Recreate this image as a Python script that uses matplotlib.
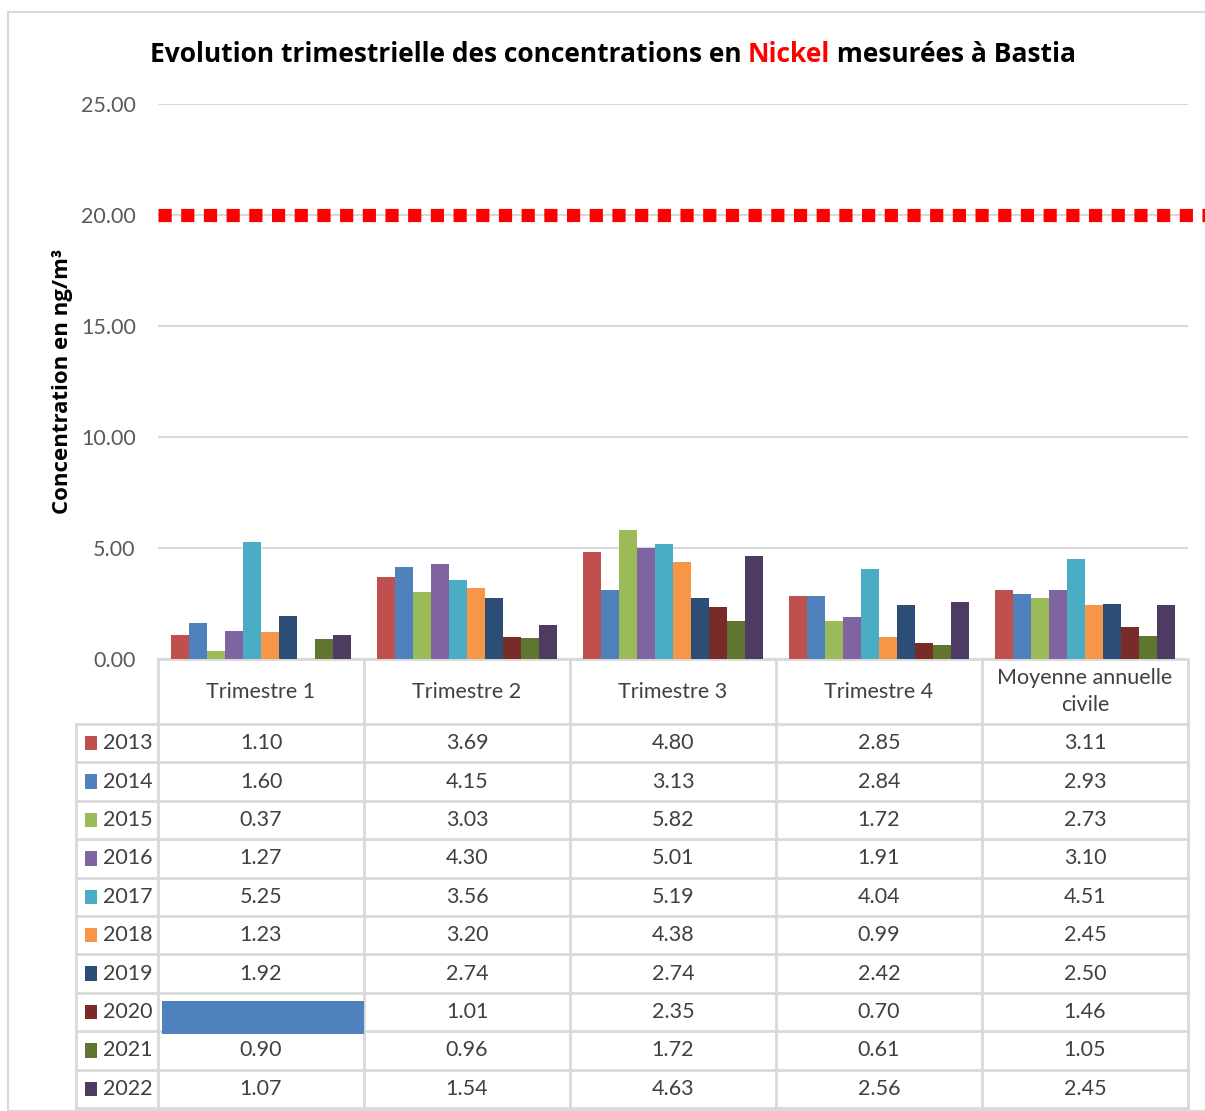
import numpy as np
import matplotlib.pyplot as plt
from matplotlib.patches import Rectangle
from matplotlib.transforms import blended_transform_factory

# ---- DATA ----
periods = ["Trimestre 1", "Trimestre 2", "Trimestre 3", "Trimestre 4",
           "Moyenne annuelle\ncivile"]
years = ["2013", "2014", "2015", "2016", "2017",
         "2018", "2019", "2020", "2021", "2022"]
v2013 = [1.10, 3.69, 4.80, 2.85, 3.11]
v2014 = [1.60, 4.15, 3.13, 2.84, 2.93]
v2015 = [0.37, 3.03, 5.82, 1.72, 2.73]
v2016 = [1.27, 4.30, 5.01, 1.91, 3.10]
v2017 = [5.25, 3.56, 5.19, 4.04, 4.51]
v2018 = [1.23, 3.20, 4.38, 0.99, 2.45]
v2019 = [1.92, 2.74, 2.74, 2.42, 2.50]
v2020 = [np.nan, 1.01, 2.35, 0.70, 1.46]
v2021 = [0.90, 0.96, 1.72, 0.61, 1.05]
v2022 = [1.07, 1.54, 4.63, 2.56, 2.45]
series = [v2013, v2014, v2015, v2016, v2017, v2018, v2019, v2020, v2021, v2022]
limit_value = 20.0

colors = ["#C0504D", "#4F81BD", "#9BBB59", "#8064A2", "#4BACC6",
          "#F79646", "#2C4D75", "#772C2A", "#5F7530", "#4D3B62"]

FONT = "Lato"
BOLD = "Open Sans"
FS = 15.5
GRID = "#D9D9D9"
TXT = "#404040"

W, H = 1205, 1111
fig = plt.figure(figsize=(W / 100, H / 100), dpi=100)
fig.patch.set_facecolor("white")

# outer frame of the chart
fig.add_artist(Rectangle((8 / W, 0), 1.2, (H - 12) / H, transform=fig.transFigure,
                         fill=False, edgecolor=GRID, linewidth=1.5))

# ---- BAR CHART ----
x0, x1 = 158, 1188
y_zero, y_top = 659, 104
ax = fig.add_axes([x0 / W, (H - y_zero) / H, (x1 - x0) / W, (y_zero - y_top) / H])
x = np.arange(len(periods))
bw = 0.087
n = len(series)
for i, vals in enumerate(series):
    ax.bar(x + (i - (n - 1) / 2) * bw, vals, width=bw, color=colors[i],
           edgecolor="none", zorder=3)

ax.set_xlim(-0.5, len(periods) - 0.5)
ax.set_ylim(0, 25)
ax.set_yticks(np.arange(0, 26, 5))
ax.set_yticklabels([f"{t:.2f}" for t in np.arange(0, 26, 5)],
                   fontsize=FS, color="#595959", family=FONT)
ax.tick_params(axis="y", length=0, pad=16)
ax.set_xticks([])
ax.grid(axis="y", color=GRID, linewidth=1.5, zorder=0)
for s in ["top", "right", "left"]:
    ax.spines[s].set_visible(False)
ax.spines["bottom"].set_color(GRID)
ax.spines["bottom"].set_linewidth(1.5)

# limit line
trans = blended_transform_factory(ax.transAxes, ax.transData)
ax.plot([0, 1.1], [limit_value, limit_value], transform=trans, color="red",
        linewidth=9.5, dashes=(1.0, 0.72), clip_on=False, zorder=4)

ax.set_ylabel("Concentration en ng/m³", fontsize=16, fontweight="bold",
              family=BOLD)
ax.yaxis.set_label_coords(-0.083, 0.5)

# title with the element in red
parts = [("Evolution trimestrielle des concentrations en ", "black"),
         ("Nickel", "#FF0000"),
         (" mesurées à Bastia", "black")]
fig.canvas.draw()
renderer = fig.canvas.get_renderer()
texts = []
widths = []
for s, c in parts:
    t = fig.text(0, 1 - 55 / H, s, color=c, fontsize=19, fontweight="bold",
                 family=BOLD, va="center", ha="left")
    texts.append(t)
    widths.append(t.get_window_extent(renderer).width)
total = sum(widths)
start = 613 - total / 2
for t, w in zip(texts, widths):
    t.set_x(start / W)
    start += w

# ---- DATA TABLE ----
lab_w = (158 - 76) / 206
hdr_h = 65 / 38.4
tab_left, tab_top, tab_bottom = 76, 659, 1108
tab = fig.add_axes([tab_left / W, (H - tab_bottom) / H, (x1 - tab_left) / W,
                    (tab_bottom - tab_top) / H])
tab.set_xlim(-0.5 - lab_w, len(periods) - 0.5)
tab.set_ylim(hdr_h + n, 0)
tab.axis("off")

lw = 2
# horizontal lines
tab.plot([-0.5, len(periods) - 0.5], [0, 0], color=GRID, lw=lw)
for r in range(n + 1):
    tab.plot([-0.5 - lab_w, len(periods) - 0.5], [hdr_h + r, hdr_h + r],
             color=GRID, lw=lw, clip_on=False)
# vertical lines
tab.plot([-0.5 - lab_w, -0.5 - lab_w], [hdr_h, hdr_h + n], color=GRID, lw=lw,
         clip_on=False)
for c in range(len(periods) + 1):
    tab.plot([c - 0.5, c - 0.5], [0, hdr_h + n], color=GRID, lw=lw, clip_on=False)

for c, p in enumerate(periods):
    tab.text(c, hdr_h / 2, p, ha="center", va="center", fontsize=FS,
             color=TXT, family=FONT, linespacing=1.45)

for r, (yr, vals) in enumerate(zip(years, series)):
    yc = hdr_h + r + 0.5
    tab.add_patch(Rectangle((-0.5 - lab_w + 0.045, yc - 0.19), 0.058, 0.38,
                            facecolor=colors[r], edgecolor="none"))
    tab.text(-0.5 - lab_w + 0.13, yc, yr, ha="left", va="center",
             fontsize=FS, color=TXT, family=FONT)
    for c, v in enumerate(vals):
        if np.isnan(v):
            tab.add_patch(Rectangle((c - 0.48, yc - 0.28), 0.98, 0.86,
                                    facecolor="#4F81BD", edgecolor="none",
                                    zorder=5))
        else:
            tab.text(c, yc, f"{v:.2f}", ha="center", va="center",
                     fontsize=FS, color=TXT, family=FONT)

plt.savefig("out.png", dpi=100)
plt.close()
